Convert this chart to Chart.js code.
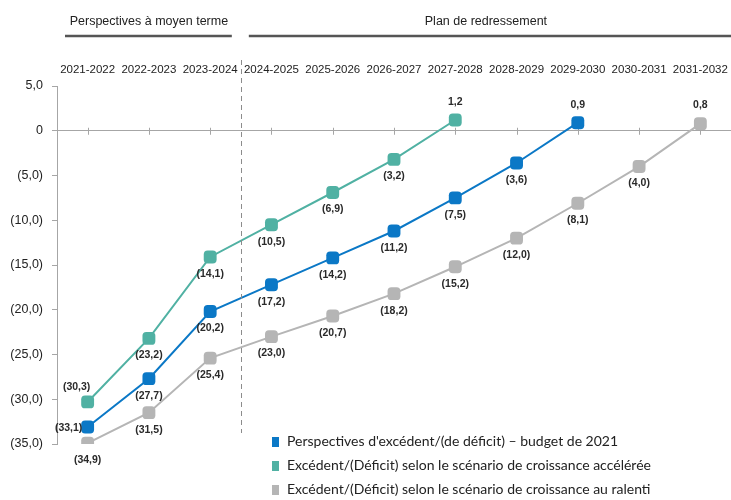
<!DOCTYPE html>
<html lang="fr">
<head>
<meta charset="utf-8">
<title>Perspectives d'excédent/(de déficit)</title>
<script src="https://cdn.jsdelivr.net/npm/chart.js@4.4.1/dist/chart.umd.min.js"></script>
<style>
  html, body { margin: 0; padding: 0; background: #fff; }
  #wrap { position: relative; width: 731px; height: 500px; }
  #legend { position: absolute; left: 272px; top: 429px; font-family: Lato, "Noto Sans", sans-serif; font-size: 14px; color: #222; }
  #legend div { height: 24px; line-height: 24px; white-space: nowrap; }
  #legend span { display: inline-block; width: 7px; height: 10px; margin-right: 8px; vertical-align: -1px; }
</style>
</head>
<body>
<div id="wrap">
  <canvas id="chart" width="731" height="500"></canvas>
  <div id="legend"></div>
</div>
<script>
// exercices (axe du haut)
var categories = ['2021-2022', '2022-2023', '2023-2024', '2024-2025', '2025-2026', '2026-2027',
                  '2027-2028', '2028-2029', '2029-2030', '2030-2031', '2031-2032'];

// excédent/(déficit), en milliards
var budget2021 = [-33.1, -27.7, -20.2, -17.2, -14.2, -11.2, -7.5, -3.6, 0.9, null, null];
var accelere   = [-30.3, -23.2, -14.1, -10.5, -6.9, -3.2, 1.2, null, null, null, null];
var ralenti    = [-34.9, -31.5, -25.4, -23.0, -20.7, -18.2, -15.2, -12.0, -8.1, -4.0, 0.8];

var seriesNames = [
  "Perspectives d'excédent/(de déficit) – budget de 2021",
  "Excédent/(Déficit) selon le scénario de croissance accélérée",
  "Excédent/(Déficit) selon le scénario de croissance au ralenti"
];

// périodes en en-tête : libellé + premier exercice de la période
var groupNames = ['Perspectives à moyen terme', 'Plan de redressement'];
var groupFirst = [0, 3];

var yMin = -35, yMax = 5, yStep = 5;

var COLORS = ['#0b78c6', '#50b1a3', '#b5b5b5'];
var SANS = "'Liberation Sans', Arial, sans-serif";

function fmt(v) {
  var s = Math.abs(v).toFixed(1).replace('.', ',');
  return v < 0 ? '(' + s + ')' : s;
}

// tirets sur la ligne du zéro
var zeroTicks = {
  id: 'zeroTicks',
  beforeDatasetsDraw: function(chart) {
    var ctx = chart.ctx, xs = chart.scales.x, y0 = chart.scales.y.getPixelForValue(0);
    ctx.save();
    ctx.strokeStyle = '#a6a6a6';
    ctx.lineWidth = 1;
    for (var i = 0; i < categories.length; i++) {
      var x = Math.round(xs.getPixelForValue(i)) + 0.5;
      ctx.beginPath();
      ctx.moveTo(x, y0 - 3);
      ctx.lineTo(x, y0 + 4);
      ctx.stroke();
    }
    ctx.restore();
  }
};

// étiquettes des points
var pointLabels = {
  id: 'pointLabels',
  afterDatasetsDraw: function(chart) {
    var ctx = chart.ctx;
    ctx.save();
    ctx.font = 'bold 10.5px ' + SANS;
    ctx.fillStyle = '#2a2a2a';
    ctx.textAlign = 'center';
    ctx.textBaseline = 'middle';
    chart.data.datasets.forEach(function(ds, d) {
      var meta = chart.getDatasetMeta(d);
      meta.data.forEach(function(pt, i) {
        var v = ds.data[i];
        if (v === null || v === undefined) return;
        var spot = (ds.labelSpots && ds.labelSpots[i]) || (v < 0 ? 'below' : 'above');
        var dx = 0, dy = 17;
        if (spot === 'above') dy = -18;
        if (spot === 'left') { dx = -19; dy = 1; }
        if (spot === 'aboveLeft') { dx = -11; dy = -15; }
        ctx.fillText(fmt(v), pt.x + dx, pt.y + dy);
      });
    });
    ctx.restore();
  }
};

// en-têtes de périodes + séparateur pointillé
var periods = {
  id: 'periods',
  afterDraw: function(chart) {
    var ctx = chart.ctx, xs = chart.scales.x, area = chart.chartArea;
    var half = (xs.getPixelForValue(1) - xs.getPixelForValue(0)) / 2;
    ctx.save();
    groupFirst.forEach(function(first, g) {
      var isLast = g === groupFirst.length - 1;
      var last = isLast ? categories.length - 1 : groupFirst[g + 1] - 1;
      var left = xs.getPixelForValue(first) - half;
      var right = xs.getPixelForValue(last) + half;
      var mid = (xs.getPixelForValue(first) + xs.getPixelForValue(last)) / 2;

      ctx.font = '12.5px ' + SANS;
      ctx.fillStyle = '#222';
      ctx.textAlign = 'center';
      ctx.textBaseline = 'middle';
      ctx.fillText(groupNames[g], mid, 22);

      ctx.strokeStyle = '#555';
      ctx.lineWidth = 2.5;
      ctx.beginPath();
      ctx.moveTo(left + 8, 36);
      ctx.lineTo(isLast ? right : right - 9, 36);
      ctx.stroke();

      if (g > 0) {
        var sx = Math.round(left) + 0.5;
        ctx.strokeStyle = '#8c8c8c';
        ctx.lineWidth = 1;
        ctx.setLineDash([5, 4]);
        ctx.beginPath();
        ctx.moveTo(sx, 60);
        ctx.lineTo(sx, area.bottom - 11);
        ctx.stroke();
        ctx.setLineDash([]);
      }
    });
    ctx.restore();
  }
};

function series(label, data, color, spots) {
  return {
    label: label,
    data: data,
    borderColor: color,
    backgroundColor: color,
    borderWidth: 2,
    pointStyle: 'rectRounded',
    pointRadius: 7.5,
    pointHoverRadius: 7.5,
    pointBorderWidth: 0,
    spanGaps: false,
    labelSpots: spots || {}
  };
}

var chart = new Chart(document.getElementById('chart'), {
  type: 'line',
  data: {
    labels: categories,
    datasets: [
      series(seriesNames[2], ralenti, COLORS[2]),
      series(seriesNames[0], budget2021, COLORS[0], { 0: 'left' }),
      series(seriesNames[1], accelere, COLORS[1], { 0: 'aboveLeft' })
    ]
  },
  options: {
    responsive: false,
    animation: false,
    layout: { autoPadding: false, padding: { top: 0, right: 0, bottom: 56, left: 0 } },
    plugins: { legend: { display: false }, tooltip: { enabled: false } },
    scales: {
      x: {
        position: 'top',
        offset: true,
        grid: { display: false },
        border: { display: false },
        ticks: { autoSkip: false, maxRotation: 0, padding: 1, color: '#222', font: { family: SANS, size: 11.5 } },
        afterFit: function(s) { s.height = 86; s.paddingLeft = 0; s.paddingRight = 0; }
      },
      y: {
        min: yMin,
        max: yMax,
        border: { display: true, color: '#a6a6a6', width: 1 },
        grid: {
          drawTicks: true,
          tickLength: 5,
          tickColor: '#a6a6a6',
          color: function(c) { return c.tick && c.tick.value === 0 ? '#a6a6a6' : 'rgba(0,0,0,0)'; }
        },
        ticks: {
          stepSize: yStep,
          padding: 9,
          color: '#222',
          font: { family: SANS, size: 12.5 },
          callback: function(v) { return v === 0 ? '0' : fmt(v); }
        },
        afterFit: function(s) { s.width = 57; s.paddingTop = 0; s.paddingBottom = 0; }
      }
    }
  },
  plugins: [zeroTicks, pointLabels, periods]
});

// légende
var legend = document.getElementById('legend');
[0, 1, 2].forEach(function(k) {
  var row = document.createElement('div');
  var sw = document.createElement('span');
  sw.style.background = COLORS[k];
  row.appendChild(sw);
  row.appendChild(document.createTextNode(seriesNames[k]));
  legend.appendChild(row);
});
</script>
</body>
</html>
